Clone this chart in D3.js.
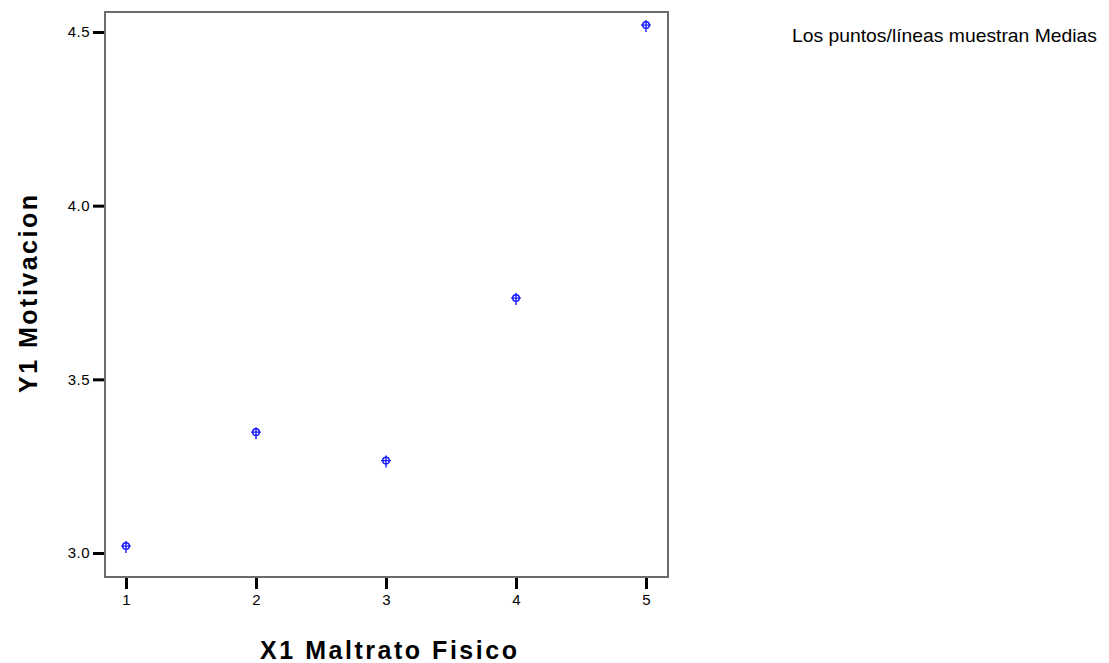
<!DOCTYPE html>
<html><head><meta charset="utf-8">
<script src="https://cdn.jsdelivr.net/npm/d3@7"></script>
<style>body{margin:0;background:#fff;}svg{display:block;font-family:"Liberation Sans",Arial,sans-serif;}</style>
</head><body>
<script>
const categories = [1, 2, 3, 4, 5];
const means = [3.02, 3.348, 3.266, 3.734, 4.52];
const yTicks = [3.0, 3.5, 4.0, 4.5];
const xLabel = "X1 Maltrato Fisico";
const yLabel = "Y1 Motivacion";
const note = "Los puntos/líneas muestran Medias";

const W = 1109, H = 663;
const box = {left: 105, top: 12, right: 668, bottom: 577};
const svg = d3.select("body").append("svg").attr("width", W).attr("height", H);

const x = d3.scaleLinear().domain([1, 5]).range([126, 646]);
const y = d3.scaleLinear().domain([3.0, 4.5]).range([553, 32]);

svg.append("rect").attr("x", box.left).attr("y", box.top)
  .attr("width", box.right - box.left).attr("height", box.bottom - box.top)
  .attr("fill", "#fff").attr("stroke", "#6b6b6b").attr("stroke-width", 2);

// y axis
const yAxis = svg.append("g").attr("transform", `translate(${box.left - 1},0)`)
  .call(d3.axisLeft(y).tickValues(yTicks).tickFormat(d3.format(".1f")).tickSize(11).tickPadding(3));
yAxis.select(".domain").remove();
yAxis.selectAll("line").attr("stroke", "#000").attr("stroke-width", 3);
yAxis.selectAll("text").attr("font-size", 15).attr("fill", "#000").attr("font-family", "Liberation Sans, Arial").attr("letter-spacing", 0.5);

// x axis
const xAxis = svg.append("g").attr("transform", `translate(0,${box.bottom + 1})`)
  .call(d3.axisBottom(x).tickValues(categories).tickFormat(d3.format("d")).tickSize(11).tickPadding(5));
xAxis.select(".domain").remove();
xAxis.selectAll("line").attr("stroke", "#000").attr("stroke-width", 3);
xAxis.selectAll("text").attr("font-size", 15).attr("fill", "#000").attr("font-family", "Liberation Sans, Arial");

// markers
const pts = svg.append("g").selectAll("g").data(categories.map((c, i) => ({c, v: means[i]})))
  .join("g").attr("transform", d => `translate(${x(d.c)},${y(d.v)})`);
pts.append("circle").attr("r", 3.3).attr("fill", "none").attr("stroke", "#1a1aff").attr("stroke-width", 1.5);
pts.append("line").attr("x1", -5).attr("x2", 5).attr("y1", 0).attr("y2", 0).attr("stroke", "#1a1aff").attr("stroke-width", 1.2);
pts.append("line").attr("x1", 0).attr("x2", 0).attr("y1", -5).attr("y2", 7).attr("stroke", "#1a1aff").attr("stroke-width", 1.4);

// labels
svg.append("text").attr("x", 260).attr("y", 659)
  .attr("font-size", 25).attr("font-weight", "bold").attr("fill", "#000")
  .attr("textLength", 257).attr("lengthAdjust", "spacing").text(xLabel);
svg.append("text").attr("transform", "translate(37,393) rotate(-90)")
  .attr("font-size", 25).attr("font-weight", "bold").attr("fill", "#000")
  .attr("textLength", 198).attr("lengthAdjust", "spacing").text(yLabel);
svg.append("text").attr("x", 792).attr("y", 42)
  .attr("font-size", 19).attr("fill", "#000")
  .attr("textLength", 305).attr("lengthAdjust", "spacingAndGlyphs").text(note);
</script>
</body></html>
